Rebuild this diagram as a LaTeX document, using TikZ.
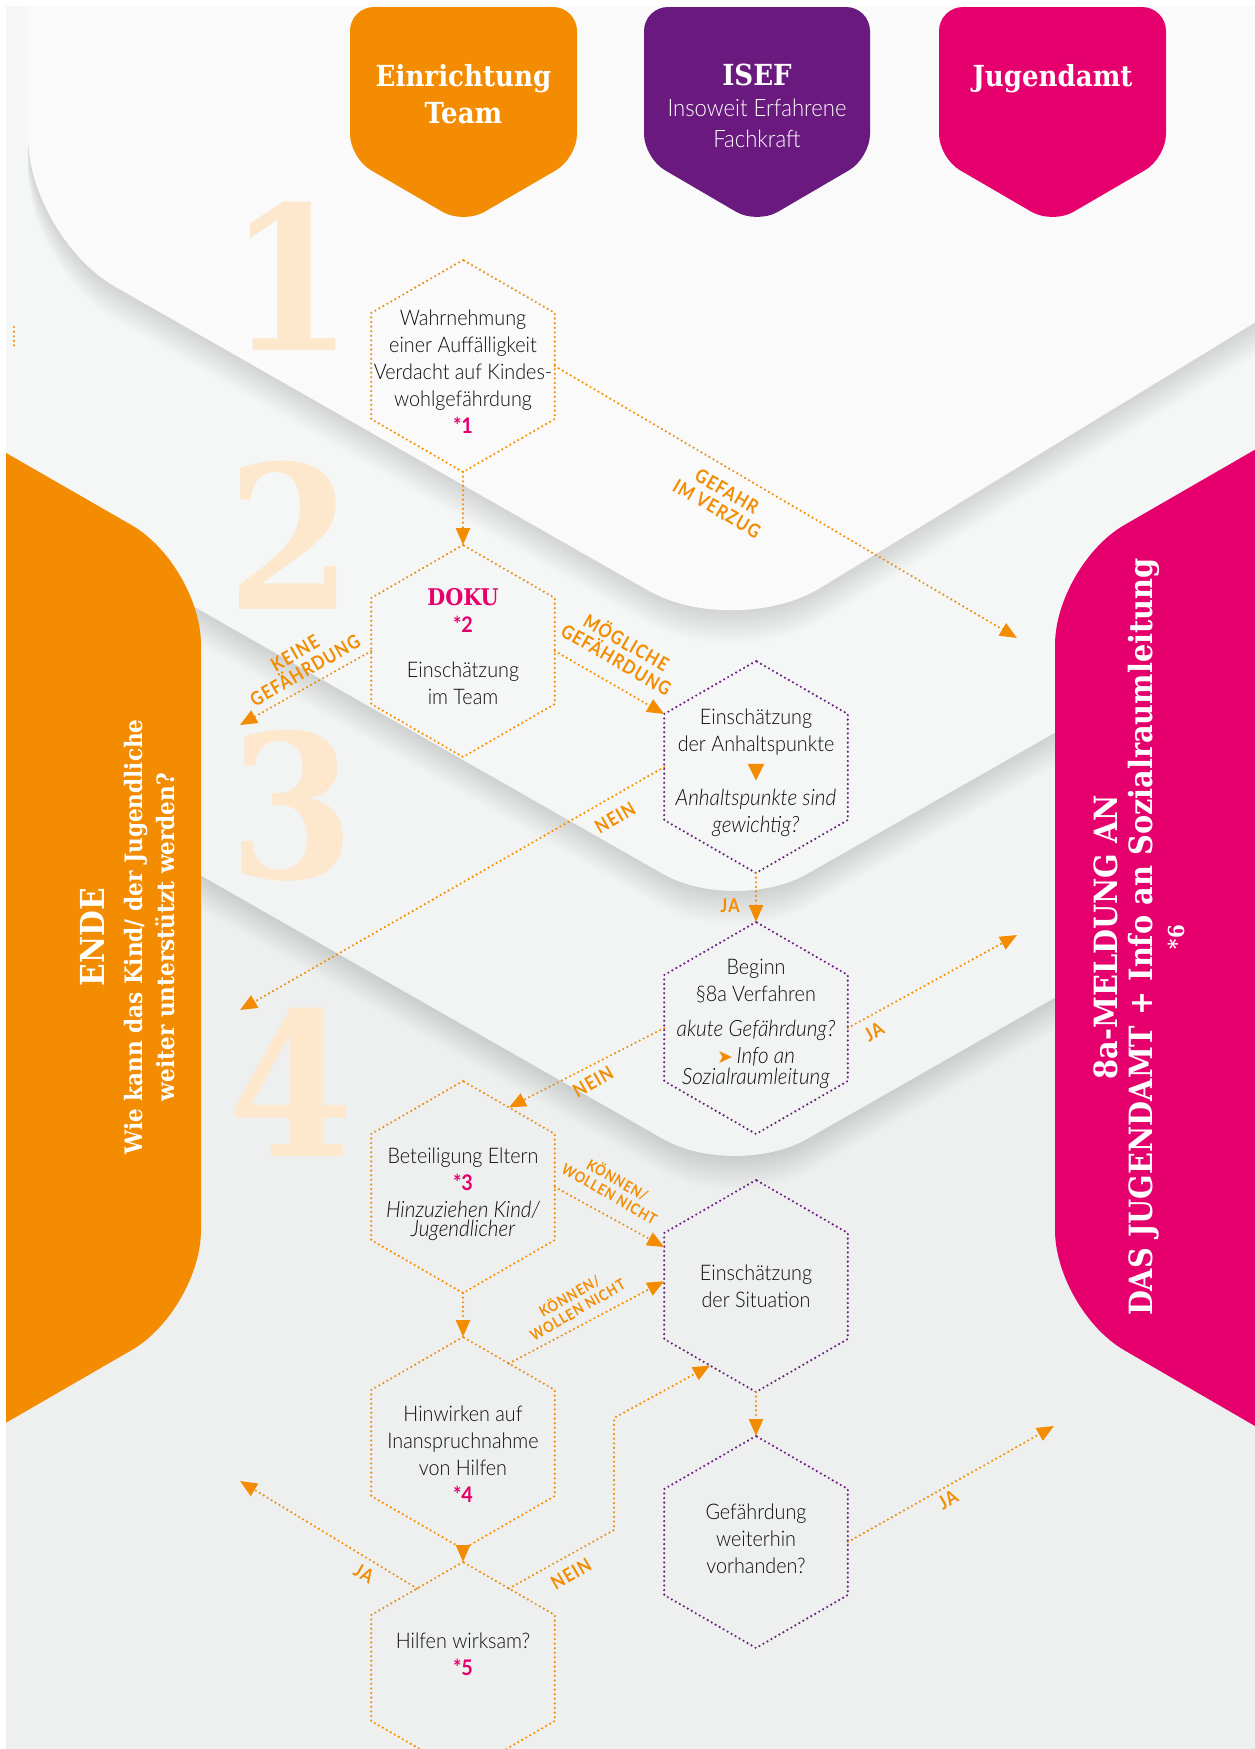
\documentclass[tikz,border=0pt]{standalone}
\usepackage{fontspec}
\usetikzlibrary{shapes.geometric,arrows.meta}

\newfontfamily\bodyf{Lato Light}[FakeStretch=0.92, ItalicFont={Lato Light Italic}, BoldFont={Lato Bold}]
\newfontfamily\slabf{DejaVu Serif}[FakeStretch=0.9]
\newfontfamily\lblf{Lato}[FakeStretch=0.86,LetterSpace=6]
\newfontfamily\symf{DejaVu Sans}

\definecolor{cOr}{RGB}{243,140,0}
\definecolor{cPu}{RGB}{106,26,126}
\definecolor{cMa}{RGB}{229,0,110}
\definecolor{cPale}{RGB}{253,232,205}
\definecolor{cTx}{RGB}{12,12,12}
\definecolor{cBg}{RGB}{238,239,239}
\definecolor{cLthree}{RGB}{242,243,243}
\definecolor{cLtwo}{RGB}{245,246,246}
\definecolor{cLone}{RGB}{250,250,250}

% band with a downward chevron edge; #1 = y of the vertex, #2 = extra downward shift
\newcommand\chevronpath[2]{(-100,#1-476+#2) -- (735,#1+#2) -- (1400,#1-379+#2) -- (1400,-400) -- (-100,-400) -- cycle}
% top band with its rounded left edge
\newcommand\toppanelpath[1]{(28,-400) -- (28,237+#1) -- (735,640+#1) -- (1400,234+#1) -- (1400,-400) -- cycle}
% footnote marks and italic lines
\newcommand\fnmark[1]{{\bfseries\color{cMa}*#1}}
\newcommand\itl[1]{{\itshape\fontsize{22.5}{27}\selectfont #1}}

\begin{document}
\begin{tikzpicture}[x=1pt,y=-1pt,
  hexa/.style={regular polygon, regular polygon sides=6, shape border rotate=30,
    minimum size=212pt, inner sep=0pt, outer sep=0pt, line width=2.4pt,
    dash pattern=on 0pt off 4.6pt, line cap=round},
  hexo/.style={hexa, draw=cOr},
  hexp/.style={hexa, draw=cPu},
  flow/.style={draw=cOr, line width=2.4pt, dash pattern=on 0pt off 4.6pt, line cap=round,
    -{Triangle[length=17pt,width=14pt]}},
  dotline/.style={draw=cOr, line width=2.4pt, dash pattern=on 0pt off 4.6pt, line cap=round},
  htext/.style={align=center, inner sep=0pt, text=cTx, font=\bodyf\fontsize{21.5}{27}\selectfont},
  lbl/.style={align=center, inner sep=0pt, text=cOr, font=\lblf\bfseries\fontsize{19}{20}\selectfont},
  lbls/.style={align=center, inner sep=0pt, text=cOr, font=\lblf\bfseries\fontsize{15}{16}\selectfont},
  hdr/.style={align=center, inner sep=0pt, text=white, font=\slabf\bfseries\fontsize{29}{37}\selectfont},
  numtext/.style={inner sep=0pt, text=cPale, font=\slabf\bfseries\fontsize{200}{200}\selectfont},
  sidetext/.style={align=center, inner sep=0pt, text=white, rotate=90, font=\slabf\bfseries\fontsize{24}{32}\selectfont},
]
\useasboundingbox (0,0) rectangle (1255,1749);
\clip (0,0) rectangle (1255,1749);

% ---- background bands with soft shadows ----
\fill[cBg] (0,0) rectangle (1255,1749);
\foreach \d in {2,4,...,34} \fill[black,opacity=0.007,rounded corners=83pt] \chevronpath{1180}{\d};
\fill[cLthree,rounded corners=83pt] \chevronpath{1180}{0};
\foreach \d in {2,4,...,34} \fill[black,opacity=0.007,rounded corners=83pt] \chevronpath{915}{\d};
\fill[cLtwo,rounded corners=83pt] \chevronpath{915}{0};
\foreach \d in {2,4,...,34} \fill[black,opacity=0.007,rounded corners=100pt] \toppanelpath{\d};
\fill[cLone,rounded corners=100pt] \toppanelpath{0};

% ---- side panels ----
\fill[cOr,rounded corners=80pt] (-100,392) -- (201,565) -- (201,1310) -- (-100,1484) -- cycle;
\fill[cMa,rounded corners=80pt] (1355,392) -- (1055,565) -- (1055,1310) -- (1355,1484) -- cycle;

% white frame
\fill[white] (0,0) rectangle (1255,6);
\fill[white] (0,0) rectangle (6,1749);

% ---- step numbers ----
\node[numtext] (n1) at (291,276) {1};
\node[numtext] (n2) at (290,535) {2};
\node[numtext] (n3) at (292,806) {3};
\node[numtext] (n4) at (291,1082) {4};

% ---- column headers ----
\fill[cOr,rounded corners=24pt] (350,7) -- (577,7) -- (577,158) -- (463.5,224) -- (350,158) -- cycle;
\fill[cPu,rounded corners=24pt] (644,7) -- (870,7) -- (870,158) -- (757,224) -- (644,158) -- cycle;
\fill[cMa,rounded corners=24pt] (939,7) -- (1166,7) -- (1166,158) -- (1052.5,224) -- (939,158) -- cycle;
\node[hdr] (hEin) at (463.5,94) {Einrichtung\\Team};
\node[hdr, font=\bodyf\fontsize{24}{31}\selectfont] (hIsef) at (757,106)
  {{\slabf\bfseries\fontsize{29}{31}\selectfont ISEF}\\Insoweit Erfahrene\\Fachkraft};
\node[hdr] (hJug) at (1052.5,79) {Jugendamt};

% ---- side panel texts ----
\node[sidetext] (tEnde) at (128,937)
  {{\fontsize{33}{33}\selectfont ENDE}\\[6pt]Wie kann das Kind/ der Jugendliche\\weiter unterstützt werden?};
\node[sidetext] (tMeld) at (1139,937)
  {{\fontsize{32}{32}\selectfont 8a-MELDUNG AN}\\[3pt]{\fontsize{32}{32}\selectfont DAS JUGENDAMT + Info an Sozialraumleitung}\\{\fontsize{22}{32}\selectfont *6}};

% small mark at the left edge
\coordinate (mA) at (14,327);
\coordinate (mB) at (14,347);
\draw[dotline] (mA) -- (mB);

% ---- process steps ----
\node[hexo] (h1) at (463,366) {};
\node[hexo] (h2) at (463,651) {};
\node[hexp] (h3) at (756,767) {};
\node[hexp] (h4) at (756,1028) {};
\node[hexo] (h5) at (463,1187) {};
\node[hexp] (h6) at (756,1286) {};
\node[hexo] (h7) at (463,1443) {};
\node[hexp] (h8) at (756,1542) {};
\node[hexo] (h9) at (463,1668) {};

\node[htext] (t1) at (463,372) {Wahrnehmung\\einer Auffälligkeit\\Verdacht auf Kindes-\\wohlgefährdung\\\fnmark{1}};
\node[htext] (t2) at (463,647) {{\slabf\bfseries\color{cMa}\fontsize{23}{27}\selectfont DOKU}\\\fnmark{2}\\[18pt]Einschätzung\\im Team};
\node[htext] (t3) at (756,773) {Einschätzung\\der Anhaltspunkte\\{\symf\color{cOr}\fontsize{22}{27}\selectfont ▼}\\\itl{Anhaltspunkte sind}\\\itl{gewichtig?}};
\node[htext] (t4) at (756,1024) {Beginn\\§8a Verfahren\\[8pt]\itl{akute Gefährdung?}\\{\symf\color{cOr}\fontsize{19}{27}\selectfont ➤}\,\itl{Info an}\\[-6pt]\itl{Sozialraumleitung}};
\node[htext] (t5) at (463,1194) {Beteiligung Eltern\\\fnmark{3}\\\itl{Hinzuziehen Kind/}\\[-8pt]\itl{Jugendlicher}};
\node[htext] (t6) at (756,1286) {Einschätzung\\der Situation};
\node[htext] (t7) at (463,1454) {Hinwirken auf\\Inanspruchnahme\\von Hilfen\\\fnmark{4}};
\node[htext] (t8) at (756,1539) {Gefährdung\\weiterhin\\vorhanden?};
\node[htext] (t9) at (463,1654) {Hilfen wirksam?\\\fnmark{5}};

% ---- free ends of connectors ----
\coordinate (tGef) at (1017,638);
\coordinate (tKeine) at (240,725);
\coordinate (tNeinA) at (240,1010);
\coordinate (tJaA) at (1017,935);
\coordinate (tJaB) at (240,1481);
\coordinate (tJaC) at (1054,1426);
\coordinate (kNeinA) at (614,1530);
\coordinate (kNeinB) at (614,1418);

% ---- connectors ----
\draw[flow] (h1.-90) -- (h2.90);
\draw[flow] (h1.0) -- (tGef);
\draw[flow] (h2.180) -- (tKeine);
\draw[flow] (h2.0) -- (h3.150);
\draw[flow] (h3.180) -- (tNeinA);
\draw[flow] (h3.-90) -- (h4.90);
\draw[flow] (h4.0) -- (tJaA);
\draw[flow] (h4.180) -- (h5.60);
\draw[flow] (h5.0) -- (h6.157);
\draw[flow] (h5.-90) -- (h7.90);
\draw[flow] (h7.60) -- (h6.177);
\draw[flow] (h7.-90) -- (h9.90);
\draw[flow] (h6.-90) -- (h8.90);
\draw[flow] (h8.0) -- (tJaC);
\draw[flow] (h9.120) -- (tJaB);
\draw[flow] (h9.60) -- (kNeinA) -- (kNeinB) -- (h6.-120);

% ---- connector labels ----
\node[lbl, rotate=-30] (lGef) at (722,500) {GEFAHR\\IM VERZUG};
\node[lbl, rotate=30] (lKeine) at (300,662) {KEINE\\GEFÄHRDUNG};
\node[lbl, rotate=-30] (lMoeg) at (622,650) {MÖGLICHE\\GEFÄHRDUNG};
\node[lbl, rotate=30] (lNeinA) at (615,818) {NEIN};
\node[lbl] (lJaA) at (730,906) {JA};
\node[lbl, rotate=30] (lJaB) at (874,1032) {JA};
\node[lbl, rotate=30] (lNeinB) at (593,1082) {NEIN};
\node[lbls, rotate=-30] (lKoenA) at (614,1186) {KÖNNEN/\\WOLLEN NICHT};
\node[lbls, rotate=30] (lKoenB) at (573,1302) {KÖNNEN/\\WOLLEN NICHT};
\node[lbl, rotate=-30] (lJaC) at (364,1573) {JA};
\node[lbl, rotate=30] (lNeinC) at (571,1574) {NEIN};
\node[lbl, rotate=30] (lJaD) at (948,1500) {JA};
\end{tikzpicture}
\end{document}
